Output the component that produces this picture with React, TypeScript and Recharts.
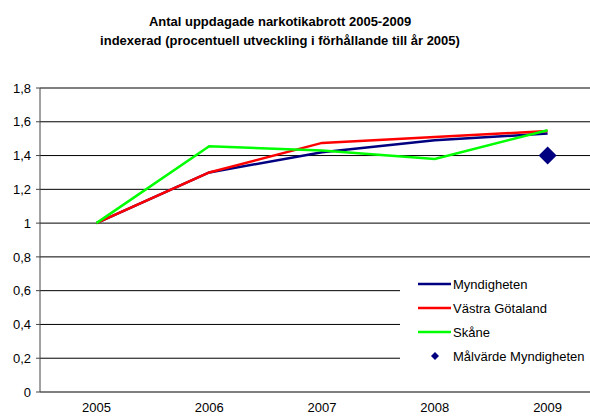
import { ComposedChart, Line, Scatter, XAxis, YAxis, CartesianGrid, Legend } from 'recharts';

const years = [2005, 2006, 2007, 2008, 2009];
const myndigheten = [1, 1.3, 1.42, 1.49, 1.53];
const vastraGotaland = [1, 1.3, 1.475, 1.51, 1.545];
const skane = [1, 1.455, 1.43, 1.38, 1.55];
const malvarde = [null, null, null, null, 1.4];
const seriesNames = ['Myndigheten', 'Västra Götaland', 'Skåne', 'Målvärde Myndigheten'];
const yTicks = [0, 0.2, 0.4, 0.6, 0.8, 1, 1.2, 1.4, 1.6, 1.8];
const markTicks = [2004.5, 2005.5, 2006.5, 2007.5, 2008.5, 2009.5];

const data = years.map((year, i) => ({
  year,
  myndigheten: myndigheten[i],
  vastra: vastraGotaland[i],
  skane: skane[i],
  malvarde: malvarde[i],
}));

const font = '"Liberation Sans", Arial, sans-serif';

const Diamond = (props: any) => {
  const { cx, cy } = props;
  if (cx == null || cy == null) return null;
  return <polygon points={`${cx},${cy - 9} ${cx + 9},${cy} ${cx},${cy + 9} ${cx - 9},${cy}`} fill="#000080" />;
};

const renderLegend = (props: any) => {
  const items = [...(props.payload || [])].sort(
    (a: any, b: any) => seriesNames.indexOf(a.value) - seriesNames.indexOf(b.value)
  );
  return (
    <div style={{ background: '#fff', width: 210, height: 108, paddingTop: 9, boxSizing: 'border-box', fontFamily: font, fontSize: 13, color: '#000' }}>
      {items.map((entry: any) => (
        <div key={entry.value} style={{ display: 'flex', alignItems: 'center', height: 24 }}>
          <svg width={53} height={12} style={{ flex: 'none' }}>
            {entry.type === 'diamond' ? (
              <polygon points="35,2 39,6 35,10 31,6" fill={entry.color} />
            ) : (
              <line x1={18} y1={6} x2={51} y2={6} stroke={entry.color} strokeWidth={2.5} />
            )}
          </svg>
          <span>{entry.value}</span>
        </div>
      ))}
    </div>
  );
};

export default function App() {
  return (
    <div style={{ position: 'fixed', left: 0, top: 0, width: 590, height: 416, overflow: 'hidden', background: '#fff', fontFamily: font }}>
      <div style={{ position: 'absolute', left: 0, top: 12, width: 560, textAlign: 'center', fontWeight: 'bold', fontSize: 13, lineHeight: '19px', color: '#000', zIndex: 1 }}>
        <div>Antal uppdagade narkotikabrott 2005-2009</div>
        <div>indexerad (procentuell utveckling i förhållande till år 2005)</div>
      </div>
      <ComposedChart width={604} height={416} data={data} margin={{ top: 88, right: 0, left: 0, bottom: 0 }}>
        <CartesianGrid vertical={false} stroke="#000" strokeWidth={1} />
        <XAxis xAxisId="marks" dataKey="year" type="number" domain={[2004.5, 2009.5]} ticks={markTicks} tick={false} height={0} tickSize={4} stroke="#444" />
        <XAxis xAxisId="x" dataKey="year" type="number" domain={[2004.5, 2009.5]} ticks={years} axisLine={false} tickLine={false} tickSize={0} tickMargin={11} height={24} tick={{ fill: '#000', fontSize: 13, fontFamily: font }} />
        <YAxis domain={[0, 1.8]} ticks={yTicks} width={40} tickSize={4} tickMargin={5} stroke="#444" tick={{ fill: '#000', fontSize: 13, fontFamily: font }} tickFormatter={(v: number) => String(v).replace('.', ',')} />
        <Legend layout="vertical" align="center" verticalAlign="middle" content={renderLegend} wrapperStyle={{ left: 400, top: 263, width: 210, height: 108 }} />
        <Line xAxisId="x" dataKey="myndigheten" name="Myndigheten" stroke="#000080" strokeWidth={2.5} dot={false} isAnimationActive={false} />
        <Line xAxisId="x" dataKey="vastra" name="Västra Götaland" stroke="#ff0000" strokeWidth={2.5} dot={false} isAnimationActive={false} />
        <Line xAxisId="x" dataKey="skane" name="Skåne" stroke="#00ff00" strokeWidth={2.5} dot={false} isAnimationActive={false} />
        <Scatter xAxisId="x" dataKey="malvarde" name="Målvärde Myndigheten" fill="#000080" legendType="diamond" shape={Diamond} isAnimationActive={false} />
      </ComposedChart>
    </div>
  );
}
